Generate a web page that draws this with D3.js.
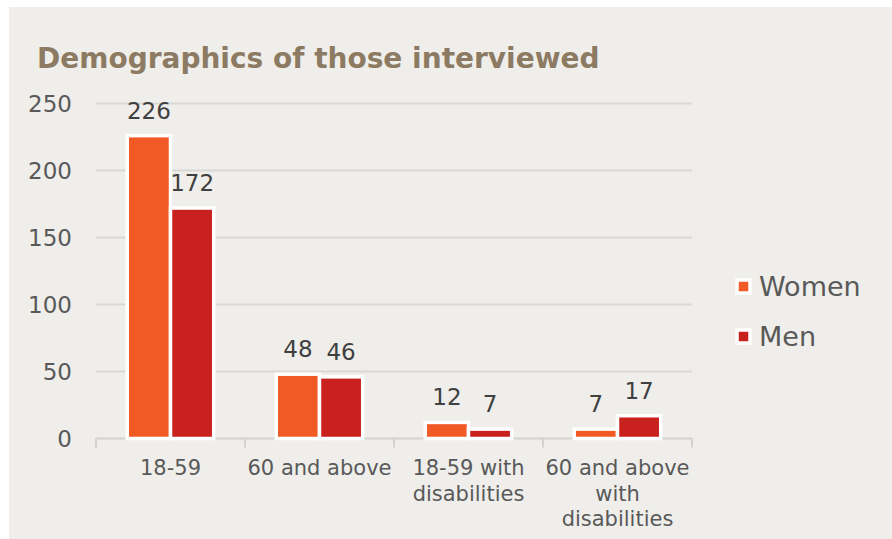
<!DOCTYPE html>
<html>
<head>
<meta charset="utf-8">
<script src="https://cdn.jsdelivr.net/npm/d3@7"></script>
<style>
  html, body { margin: 0; padding: 0; background: #ffffff; }
  svg { display: block; font-family: Verdana, "DejaVu Sans", sans-serif; }
</style>
</head>
<body>
<svg id="chart" width="892" height="539"></svg>
<script>
// data
var categories = ["18-59", "60 and above", "18-59 with disabilities", "60 and above with disabilities"];
var series = ["Women", "Men"];
var women = [226, 48, 12, 7];
var men = [172, 46, 7, 17];
var yTicks = [0, 50, 100, 150, 200, 250];

var colors = { Women: "#f15a24", Men: "#c8211e" };
var values = { Women: women, Men: men };

var svg = d3.select("#chart"),
    width = +svg.attr("width"),
    height = +svg.attr("height");

// chart area background
svg.append("rect")
  .attr("x", 9).attr("y", 7)
  .attr("width", width - 9).attr("height", height - 7)
  .attr("fill", "#efeeeb");

svg.append("text")
  .attr("x", 37).attr("y", 68)
  .attr("font-size", 28).attr("font-weight", "bold")
  .attr("fill", "#8c7b62")
  .text("Demographics of those interviewed");

var x0 = d3.scaleBand()
    .domain(categories)
    .range([96, 692])
    .paddingInner(0.42)
    .paddingOuter(0.21);

var x1 = d3.scaleBand()
    .domain(series)
    .range([0, x0.bandwidth()]);

var y = d3.scaleLinear()
    .domain([0, 250])
    .range([438.5, 103.5]);

// gridlines
svg.append("g")
  .selectAll("line")
  .data(yTicks.filter(d => d > 0))
  .enter().append("line")
  .attr("x1", 96).attr("x2", 692)
  .attr("y1", d => y(d)).attr("y2", d => y(d))
  .attr("stroke", "#d9d8d6").attr("stroke-width", 2);

// y labels
svg.append("g")
  .selectAll("text")
  .data(yTicks)
  .enter().append("text")
  .attr("x", 72).attr("y", d => y(d))
  .attr("dy", "0.36em")
  .attr("text-anchor", "end")
  .attr("font-size", 23)
  .attr("fill", "#595959")
  .text(d => d);

// x axis
var step = x0.step();
var xAxis = svg.append("g").attr("class", "x-axis");
xAxis.append("line")
  .attr("x1", 96).attr("x2", 692)
  .attr("y1", y(0)).attr("y2", y(0))
  .attr("stroke", "#d3d2d0").attr("stroke-width", 2);
xAxis.selectAll(".tick")
  .data(d3.range(categories.length + 1))
  .enter().append("line")
  .attr("x1", i => 96 + i * step).attr("x2", i => 96 + i * step)
  .attr("y1", y(0)).attr("y2", y(0) + 9)
  .attr("stroke", "#d3d2d0").attr("stroke-width", 2);

// bars
var groups = svg.append("g")
  .selectAll("g")
  .data(categories)
  .enter().append("g")
  .attr("transform", d => "translate(" + x0(d) + ",0)");

groups.selectAll("rect")
  .data((d, i) => series.map(s => ({ key: s, value: values[s][i] })))
  .enter().append("rect")
  .attr("x", d => x1(d.key))
  .attr("y", d => y(d.value))
  .attr("width", x1.bandwidth())
  .attr("height", d => y(0) - y(d.value))
  .attr("fill", d => colors[d.key])
  .attr("stroke", "#ffffff")
  .attr("stroke-width", 3.5);

groups.selectAll("text")
  .data((d, i) => series.map(s => ({ key: s, value: values[s][i] })))
  .enter().append("text")
  .attr("x", d => x1(d.key) + x1.bandwidth() / 2)
  .attr("y", d => y(d.value) - 17)
  .attr("text-anchor", "middle")
  .attr("font-size", 23)
  .attr("fill", "#404040")
  .text(d => d.value);

// category labels, wrapped to the band step
var catLabels = svg.append("g")
  .selectAll("text")
  .data(categories)
  .enter().append("text")
  .attr("x", d => x0(d) + x0.bandwidth() / 2)
  .attr("y", 475)
  .attr("text-anchor", "middle")
  .attr("font-size", 21)
  .attr("fill", "#595959");

catLabels.each(function(d) {
  var text = d3.select(this),
      words = d.split(" "),
      line = [],
      lineNo = 0,
      cx = text.attr("x"),
      tspan = text.append("tspan").attr("x", cx).attr("dy", 0);
  words.forEach(function(w) {
    line.push(w);
    tspan.text(line.join(" "));
    if (tspan.node().getComputedTextLength() > step - 2 && line.length > 1) {
      line.pop();
      tspan.text(line.join(" "));
      line = [w];
      lineNo++;
      tspan = text.append("tspan").attr("x", cx).attr("dy", 25.5).text(w);
    }
  });
});

// legend
var legend = svg.append("g")
  .selectAll("g")
  .data(series)
  .enter().append("g")
  .attr("transform", (d, i) => "translate(737," + (280 + i * 50) + ")");

legend.append("rect")
  .attr("width", 13).attr("height", 13)
  .attr("fill", d => colors[d])
  .attr("stroke", "#ffffff")
  .attr("stroke-width", 3.5);

legend.append("text")
  .attr("x", 22).attr("y", 16)
  .attr("font-size", 27)
  .attr("fill", "#595959")
  .text(d => d);
</script>
</body>
</html>
